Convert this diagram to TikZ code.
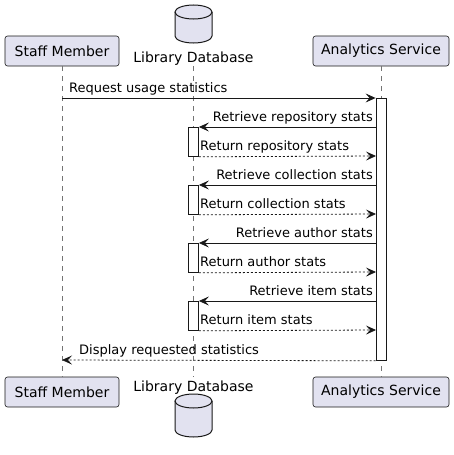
\documentclass[tikz,border=0pt]{standalone}
\usepackage{fontspec}
\setmainfont{DejaVu Sans}
\usetikzlibrary{arrows.meta}
\definecolor{partfill}{HTML}{E2E2F0}
\definecolor{partline}{HTML}{181818}
\tikzset{
  part/.style={draw=partline, line width=0.6pt, fill=partfill, rounded corners=2.5pt,
    minimum height=30pt, inner sep=0pt, font=\fontsize{14}{16}\selectfont},
  lifeline/.style={draw=partline!60, line width=0.6pt, dash pattern=on 5pt off 5pt},
  actbox/.style={draw=partline, line width=0.8pt, fill=white},
  msg/.style={draw=partline, line width=0.8pt, -{Stealth[length=10pt,width=9pt,inset=4pt]}},
  ret/.style={msg, dash pattern=on 2pt off 2pt},
  lbl/.style={font=\fontsize{13}{15}\selectfont, inner sep=0pt},
  dblbl/.style={font=\fontsize{14}{16}\selectfont, inner sep=0pt}
}
\newcommand{\dbcyl}[3]{% center x, top y, bottom y (y grows downward)
  \fill[partfill] (#1-18.5,#2+7) -- (#1-18.5,#3-7) arc[start angle=180,end angle=0,x radius=18.5,y radius=7] -- (#1+18.5,#2+7) arc[start angle=0,end angle=-180,x radius=18.5,y radius=7] -- cycle;
  \draw[partline, line width=1pt] (#1-18.5,#2+7) -- (#1-18.5,#3-7) arc[start angle=180,end angle=0,x radius=18.5,y radius=7] -- (#1+18.5,#2+7);
  \draw[partline, line width=1pt] (#1,#2+7) ellipse[x radius=18.5,y radius=7];
}
\begin{document}
\begin{tikzpicture}[x=1pt,y=-1pt]
\useasboundingbox (0,0) rectangle (454,455);
% participants top
\node[part, minimum width=114pt] (sm) at (62,51) {Staff Member};
\node[part, minimum width=136pt] (as) at (381,51) {Analytics Service};
\dbcyl{193.5}{5}{43}
\node[dblbl, anchor=base] (dbt) at (193.5,62.5) {Library Database};
% participants bottom
\node[part, minimum width=114pt] (smb) at (62,392) {Staff Member};
\node[part, minimum width=136pt] (asb) at (381,392) {Analytics Service};
\node[dblbl, anchor=base] (dbb) at (193.5,391) {Library Database};
\dbcyl{193.5}{394}{437}
% lifelines
\coordinate (dbtop) at (193.5,66);
\coordinate (dbbot) at (193.5,377);
\draw[lifeline] (sm.south) -- (smb.north);
\draw[lifeline] (as.south) -- (asb.north);
\draw[lifeline] (dbtop) -- (dbbot);
% activations
\node[actbox, minimum width=10pt, minimum height=262pt, inner sep=0pt, anchor=north] (aact) at (381,98) {};
\foreach \y/\n in {127/a1,185/a2,243/a3,301/a4}{
  \node[actbox, minimum width=10pt, minimum height=29pt, inner sep=0pt, anchor=north] (\n) at (193.5,\y) {};
}
% messages
\coordinate (s1) at (62,98);
\draw[msg] (s1) -- (aact.north west);
\node[lbl, anchor=base west] at (69,92) {Request usage statistics};

\foreach \n/\t/\y in {a1/repository/127,a2/collection/185,a3/author/243,a4/item/301}{
  \coordinate (src\n) at (376,\y);
  \draw[msg] (src\n) -- (\n.north east);
  \node[lbl, anchor=base east] at (373,\y-6) {Retrieve \t\ stats};
  \coordinate (dst\n) at (376,\y+29);
  \draw[ret] (\n.south east) -- (dst\n);
  \node[lbl, anchor=base west] at (200,\y+23) {Return \t\ stats};
}
\coordinate (s9) at (62,360);
\draw[ret] (aact.south west) -- (s9);
\node[lbl, anchor=base west] at (79,354) {Display requested statistics};
\end{tikzpicture}
\end{document}
